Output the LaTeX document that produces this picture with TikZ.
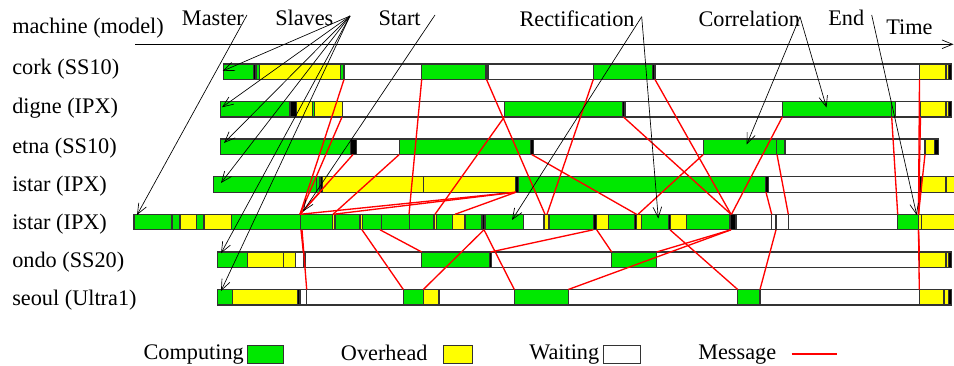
\documentclass[tikz,border=0pt]{standalone}
\usepackage{fontspec}
\setmainfont{Liberation Serif}
\usetikzlibrary{arrows.meta}
\definecolor{cG}{RGB}{0,232,0}
\definecolor{cY}{RGB}{255,255,0}
\definecolor{cW}{RGB}{255,255,255}
\definecolor{cK}{RGB}{0,0,0}
\definecolor{msg}{RGB}{255,0,0}
\newcommand\ganttrow[3]{%
  \foreach \a/\b/\c in {#3} {\filldraw[fill=\c, seg] (\a,#1) rectangle (\b,#2);}%
}
\begin{document}
\begin{tikzpicture}[x=0.75pt,y=-0.75pt,
  lbl/.style={font=\fontsize{16.7}{20}\selectfont, inner sep=0pt, anchor=base west},
  seg/.style={draw=black!80, line width=0.9pt},
  msgline/.style={draw=msg, line width=1pt},
  annot/.style={draw=black, line width=0.5pt, -{Straight Barb[length=8pt,width=6.5pt]}},
]
\useasboundingbox (0,0) rectangle (954,366);

% ---- row labels ----
\node[lbl] (lmachine) at (12,33.5) {machine (model)};
\node[lbl] (rcork)  at (12,75)   {cork (SS10)};
\node[lbl] (rdigne) at (12,113.3){digne (IPX)};
\node[lbl] (retna)  at (12,153.3){etna (SS10)};
\node[lbl] (ristA)  at (12,191.7){istar (IPX)};
\node[lbl] (ristB)  at (12,229.5){istar (IPX)};
\node[lbl] (rondo)  at (12,267.5){ondo (SS20)};
\node[lbl] (rseoul) at (12,306)  {seoul (Ultra1)};

% ---- top labels ----
\node[lbl] (lmaster) at (181.7,26) {Master};
\node[lbl] (lslaves) at (275,26) {Slaves};
\node[lbl] (lstart)  at (378.3,26) {Start};
\node[lbl] (lrect)   at (519.3,26.7) {Rectification};
\node[lbl] (lcorr)   at (698.3,26.7) {Correlation};
\node[lbl] (lend)    at (828,26) {End};
\node[lbl] (ltime)   at (886,35) {Time};

% ---- time axis ----
\coordinate (axA) at (135,44.3);
\coordinate (axB) at (953.5,44.3);
\draw[annot] (axA) -- (axB);

% ---- bars ----
% cork
\ganttrow{64}{79.5}{223.3/253.3/cG, 253.3/256/cK, 256/259.3/cG, 259.3/340.7/cY, 340.7/343.3/cG, 343.3/344.5/cK, 344.5/421.7/cW, 421.7/486/cG, 486/488/cK, 488/593.3/cW, 593.3/652.3/cG, 652.3/655/cK, 655/919.3/cW, 919.3/946/cY, 946/948.3/cY, 948.3/951.7/cK}
% digne
\ganttrow{101.5}{117}{220.7/290/cG, 290/296.7/cK, 296.7/312.7/cY, 312.7/314.3/cG, 314.3/342.3/cY, 342.3/504.3/cW, 504.3/622.7/cG, 622.7/625/cK, 625/782.3/cW, 782.3/891.7/cG, 891.7/895.7/cG, 895.7/920.7/cW, 920.7/946/cY, 946/948.3/cY, 948.3/951.7/cK}
% etna
\ganttrow{139}{154.5}{220.7/350.7/cG, 350.7/356.7/cK, 356.7/399.3/cW, 399.3/530.7/cG, 530.7/533.3/cK, 533.3/703.3/cW, 703.3/776.7/cG, 776.7/785/cG, 785/925/cW, 925/934.3/cY, 934.3/938.3/cK}
% istar (slave)
\ganttrow{176.7}{192.2}{213.3/316.7/cG, 316.7/320/cG, 320/322.7/cK, 322.7/423.3/cY, 423.3/515.7/cY, 515.7/518.3/cK, 518.3/765.7/cG, 765.7/768.3/cK, 768.3/919.3/cW, 919.3/921.7/cK, 921.7/946/cY, 946/955/cY}
% istar (master)
\ganttrow{214.3}{229.8}{134/172/cG, 172/180/cG, 180/196.7/cY, 196.7/204/cG, 204/231.7/cY, 231.7/300.7/cG, 300.7/332.3/cG, 332.3/335/cY, 335/360/cG, 360/362.7/cY, 362.7/381.7/cG, 381.7/409.3/cG, 409.3/434/cG, 434/436.7/cY, 436.7/452.7/cG, 452.7/465/cY, 465/482/cG, 482/485/cK, 485/523.3/cG, 523.3/544/cW, 544/549/cY, 549/593.3/cG, 593.3/596.7/cK, 596.7/608.3/cY, 608.3/634.3/cG, 634.3/636.5/cK, 636.5/641.7/cY, 641.7/668.3/cG, 668.3/670.7/cK, 670.7/686.7/cY, 686.7/730/cG, 730/736/cK, 736/771.7/cW, 771.7/776/cW, 776/788.3/cW, 788.3/897.7/cW, 897.7/918.3/cG, 918.3/921.7/cY, 921.7/955/cY}
% ondo
\ganttrow{252}{267.5}{217.3/247.3/cG, 247.3/283.3/cY, 283.3/295.7/cY, 295.7/303.3/cW, 303.3/305/cW, 305/421.7/cW, 421.7/489.3/cG, 489.3/491.7/cK, 491.7/611.7/cW, 611.7/656.7/cG, 656.7/919.3/cW, 919.3/946/cY, 946/948.3/cY, 948.3/951.7/cK}
% seoul
\ganttrow{289.5}{305}{217.3/232.7/cG, 232.7/297.3/cY, 297.3/300/cK, 300/306.7/cW, 306.7/403.3/cW, 403.3/423.3/cG, 423.3/439/cY, 439/514.3/cW, 514.3/568.3/cG, 568.3/737.7/cW, 737.7/760/cG, 760/919.3/cW, 919.3/944/cY, 944/948.3/cY, 948.3/951.7/cK}

% ---- messages ----
\foreach \xa/\ya/\xb/\yb in {
  300/214.3/344/79.5, 409/214.3/421.7/79.5, 545/214.3/486.5/79.5, 547/214.3/593.3/79.5, 731/214.3/655/79.5, 918.5/214.3/919.5/79.5,
  300/214.3/342/117, 435/214.3/504.3/117, 731/214.3/623.5/117, 731.5/214.3/782.3/117, 897.7/214.3/891.7/117, 918.5/214.3/920.5/117,
  300/214.3/353/154.5, 333/214.3/399.3/154.5, 636.5/214.3/531.7/154.5, 638/214.3/703.3/154.5, 788.3/214.3/777/154.5, 918.5/214.3/925/154.5,
  300/214.3/320/192.2, 300/214.3/516/192.2, 333/214.3/516/192.2, 455/214.3/516/192.2, 771.7/214.3/766/192.2, 918.5/214.3/920/192.2,
  301/229.8/303.3/252, 380/229.8/421.7/252, 593.3/229.8/490.5/252, 596.7/229.8/611.7/252, 731/229.8/656.7/252, 918.5/229.8/919.3/252,
  302/229.8/306.7/289.5, 362/229.8/403.3/289.5, 484/229.8/423.3/289.5, 484/229.8/514.3/289.5, 670/229.8/737.7/289.5, 731/229.8/568.3/289.5, 776/229.8/760/289.5, 918.5/229.8/919.3/289.5}
  {\draw[msgline] (\xa,\ya) -- (\xb,\yb);}

% ---- annotation arrows ----
\coordinate (tMaster) at (247,15);
\coordinate (tSlaves) at (350,16);
\coordinate (tStart) at (435,15);
\coordinate (tRect) at (641.7,16.7);
\coordinate (tCorr) at (800,16.7);
\coordinate (tEnd) at (871.7,15);
\coordinate (hMaster) at (137,215);
\coordinate (hCork) at (222.7,71);
\coordinate (hDigne) at (222,107.3);
\coordinate (hEtna) at (224,143);
\coordinate (hIstar) at (221,183);
\coordinate (hOndo) at (221,253.3);
\coordinate (hSeoul) at (221,291);
\coordinate (hStart) at (303,211.5);
\coordinate (hRectA) at (512,220);
\coordinate (hRectB) at (658.3,218.5);
\coordinate (hCorrA) at (826.5,107.5);
\coordinate (hCorrB) at (746.7,144.5);
\coordinate (hEnd) at (916.7,215);
\draw[annot] (tMaster) -- (hMaster);
\foreach \h in {hCork,hDigne,hEtna,hIstar,hOndo,hSeoul} {\draw[annot] (tSlaves) -- (\h);}
\draw[annot] (tStart) -- (hStart);
\draw[annot] (tRect) -- (hRectA);
\draw[annot] (tRect) -- (hRectB);
\draw[annot] (tCorr) -- (hCorrA);
\draw[annot] (tCorr) -- (hCorrB);
\draw[annot] (tEnd) -- (hEnd);

% ---- legend ----
\node[lbl] (lcomp) at (143.3,360) {Computing};
\node[draw=black!80, line width=0.8pt, fill=cG, minimum width=27.5pt, minimum height=13pt, inner sep=0pt, anchor=north west] (bcomp) at (246.7,345.3) {};
\node[lbl] (lover) at (340.7,361) {Overhead};
\node[draw=black!80, line width=0.8pt, fill=cY, minimum width=21.5pt, minimum height=13pt, inner sep=0pt, anchor=north west] (bover) at (443,345.3) {};
\node[lbl] (lwait) at (529,360) {Waiting};
\node[draw=black!80, line width=0.8pt, fill=white, minimum width=28pt, minimum height=13pt, inner sep=0pt, anchor=north west] (bwait) at (603,345.3) {};
\node[lbl] (lmsg) at (698,360) {Message};
\coordinate (mA) at (791.7,354);
\coordinate (mB) at (837.3,354);
\draw[msgline] (mA) -- (mB);
\end{tikzpicture}
\end{document}
